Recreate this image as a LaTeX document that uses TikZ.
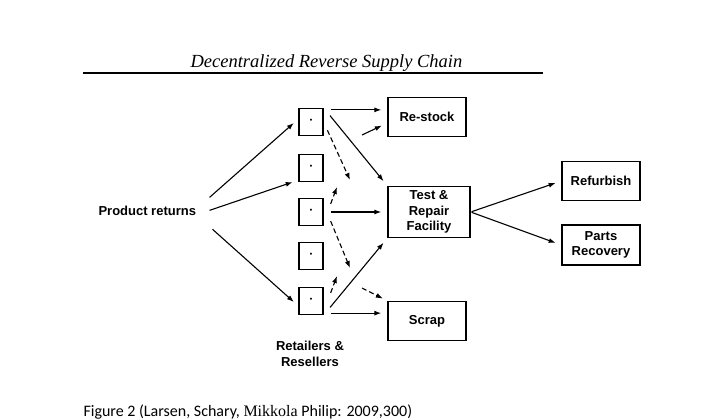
\documentclass[tikz,border=0pt]{standalone}
\usepackage{fontspec}
\setmainfont{Liberation Sans}
\newfontfamily\titlefont{Liberation Serif}
\newfontfamily\capfont{Carlito}
\usetikzlibrary{arrows.meta}

\begin{document}
\begin{tikzpicture}
    [x=1pt, y=-1pt, >={Latex[length=7pt,width=5pt]},
    every node/.style={font=\fontsize{13}{15.5}\selectfont\bfseries},
    retailer/.style={draw, line width=1.3pt, minimum width=24pt, minimum height=27pt, inner sep=0pt},
    facility/.style={draw, line width=1.3pt, minimum width=78pt, minimum height=39pt, align=center, inner sep=2pt},
    flow/.style={->, line width=1.1pt, shorten >=6pt},
    back/.style={->, line width=1.1pt, dash pattern=on 5pt off 3pt}]

    \useasboundingbox (0,0) rectangle (712,420);

    % heading
    \node [anchor=base west, font=\fontsize{18.5}{20}\selectfont\titlefont\itshape] (title) at (187,67) {Decentralized Reverse Supply Chain};
    \draw [line width=1.5pt] (83,73) -- (543,73);

    \node [anchor=base west] (pr) at (95,215) {Product returns};
    \foreach \y [count=\i] in {122,168,212,256,301}
        \node [retailer] (r\i) at (311,\y) {\raisebox{1.5pt}{\scriptsize\textbullet}};
    \node [align=center] (rr) at (310,354) {Retailers \&\\Resellers};

    \node [facility] (rs) at (427,117) {Re-stock};
    \node [facility, minimum width=82pt, minimum height=51pt] (tr) at (429,212) {Test \&\\Repair\\Facility};
    \node [facility] (sc) at (427,321) {Scrap};
    \node [facility] (rf) at (601,181) {Refurbish};
    \node [facility, minimum height=40pt] (pa) at (601,245) {Parts\\Recovery};

    % free ends
    \coordinate (d1) at (350,180);
    \coordinate (u3) at (337,187);
    \coordinate (d3) at (350,268);
    \coordinate (u5) at (337,276);
    \coordinate (rsin) at (362,135);
    \coordinate (scin) at (362,288);

    % returns to the retailers
    \draw [flow] ([shift={(10,-13)}]pr.east) -- ([yshift=3pt]r1.west);
    \draw [flow] ([xshift=10pt]pr.east) -- ([yshift=2pt]r2.south west);
    \draw [flow] ([shift={(13,19)}]pr.east) -- ([yshift=-5pt]r5.west);

    % retailers onwards
    \draw [flow] ([shift={(7,2)}]r1.north east) -- ([yshift=-2pt]r1.north east -| rs.west);
    \draw [flow, shorten <=10pt] (r1.north east) -- (tr.north west);
    \draw [back, shorten <=9pt] (r1.east) -- (d1);
    \draw [back] ([shift={(7,6)}]r3.north east) -- (u3);
    \draw [flow] ([xshift=7pt]r3.east) -- (tr.west);
    \draw [back] ([shift={(7,-5)}]r3.south east) -- (d3);
    \draw [back] ([shift={(7,6)}]r5.north east) -- (u5);
    \draw [flow, shorten <=10pt] (r5.south east) -- (tr.south west);
    \draw [flow] ([shift={(7,-2)}]r5.south east) -- ([yshift=2pt]r5.south east -| sc.west);
    \draw [flow] (rsin) -- ([yshift=-6pt]rs.west);
    \draw [back, shorten >=5pt] (scin) -- (sc.north west);

    % repair facility outputs
    \draw [flow, shorten <=1pt] (tr.east) -- (rf.west);
    \draw [flow, shorten <=1pt] (tr.east) -- (pa.west);

    \node [anchor=base west, font=\fontsize{16}{18}\selectfont\capfont] (cap) at (80,416) {Figure 2 (Larsen, Schary, {\titlefont Mikkola} Philip: 2009,300)};
\end{tikzpicture}
\end{document}
